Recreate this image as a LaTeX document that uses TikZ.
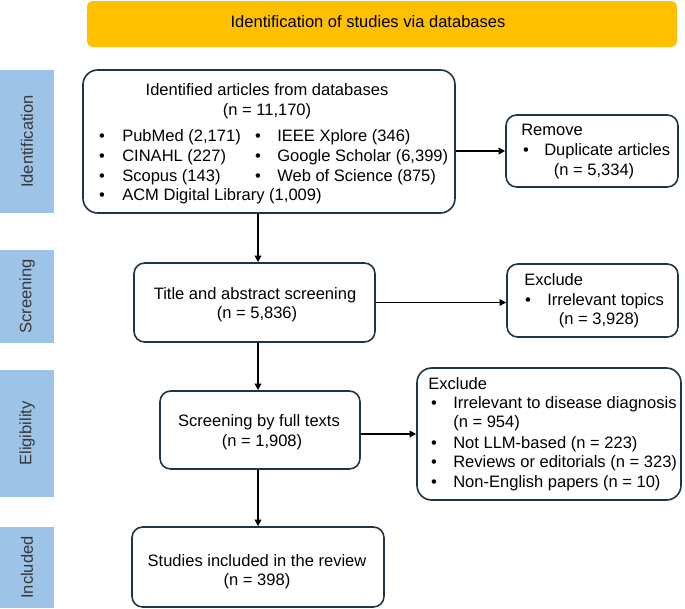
\documentclass[tikz,border=0pt]{standalone}
\usepackage{fontspec}
\setmainfont{Liberation Sans}
\usetikzlibrary{arrows.meta,fit}
\definecolor{boxline}{HTML}{1F3547}
\definecolor{orangebar}{HTML}{FFC000}
\definecolor{sidebar}{HTML}{9DC3E6}
\begin{document}
\begin{tikzpicture}[x=0.75pt,y=-0.75pt,
  font=\fontsize{12.4pt}{14.6pt}\selectfont,
  box/.style={draw=boxline, line width=1.2pt, rounded corners=8pt, inner sep=0pt, fill=white},
  bigbox/.style={box, rounded corners=11pt},
  side/.style={fill=sidebar, inner sep=0pt},
  sidetxt/.style={rotate=90, text=black!78, inner sep=0pt},
  txt/.style={inner sep=0pt, anchor=mid},
  ltxt/.style={inner sep=0pt, anchor=mid west},
  arr/.style={line width=1.1pt, -{Triangle[length=5pt,width=5pt]}}]
\path[use as bounding box] (0,0) rectangle (685,608);

% header
\node[fill=orangebar, rounded corners=4pt, inner sep=0pt, fit={(87,1) (677,47)}] (head) {};
\node[txt] (headtxt) at (368,24) {Identification of studies via databases};

% side bars
\node[side, fit={(0,70) (54,213)}] (s1) {};
\node[sidetxt] (s1t) at (s1.center) {Identification};
\node[side, fit={(0,250) (54,343)}] (s2) {};
\node[sidetxt] (s2t) at (s2.center) {Screening};
\node[side, fit={(0,370) (54,497)}] (s3) {};
\node[sidetxt] (s3t) at (s3.center) {Eligibility};
\node[side, fit={(0,527) (54,608)}] (s4) {};
\node[sidetxt] (s4t) at (s4.center) {Included};

% boxes
\node[bigbox, fit={(83,70) (455,213)}] (ident) {};
\node[box, fit={(506,115) (678,187)}] (remove) {};
\node[box, fit={(134,263) (375,342)}] (title) {};
\node[box, fit={(507,264) (678,337)}] (ex1) {};
\node[box, fit={(160,391) (360,469)}] (full) {};
\node[bigbox, fit={(417,368) (681,500)}] (ex2) {};
\node[box, fit={(132,527) (384,607)}] (incl) {};

% identified box text
\node[txt] (i1) at (267,92) {Identified articles from databases};
\node[txt] (i2) at (267,112) {(n = 11,170)};
\node[txt] (ib1) at (102,138) {•};
\node[ltxt] (it1) at (122,138) {PubMed (2,171)};
\node[txt] (ib2) at (102,158) {•};
\node[ltxt] (it2) at (122,158) {CINAHL (227)};
\node[txt] (ib3) at (102,178) {•};
\node[ltxt] (it3) at (122,178) {Scopus (143)};
\node[txt] (ib4) at (102,197) {•};
\node[ltxt] (it4) at (122,197) {ACM Digital Library (1,009)};
\node[txt] (ib5) at (258,138) {•};
\node[ltxt] (it5) at (277,138) {IEEE Xplore (346)};
\node[txt] (ib6) at (258,158) {•};
\node[ltxt] (it6) at (277,158) {Google Scholar (6,399)};
\node[txt] (ib7) at (258,178) {•};
\node[ltxt] (it7) at (277,178) {Web of Science (875)};

% remove box text
\node[ltxt] (r1) at (521,132) {Remove};
\node[txt] (rb1) at (526,152) {•};
\node[ltxt] (r2) at (544,152) {Duplicate articles};
\node[txt] (r3) at (594,172) {(n = 5,334)};

% title box text
\node[txt] (t1) at (255,296) {Title and abstract screening};
\node[txt] (t2) at (257,315) {(n = 5,836)};

% exclude 1 text
\node[ltxt] (e1) at (524,282) {Exclude};
\node[txt] (eb1) at (528,302) {•};
\node[ltxt] (e2) at (547,302) {Irrelevant topics};
\node[txt] (e3) at (599,321) {(n = 3,928)};

% full text box
\node[txt] (f1) at (259,423) {Screening by full texts};
\node[txt] (f2) at (262,443) {(n = 1,908)};

% exclude 2 text
\node[ltxt] (x0) at (428,386) {Exclude};
\node[txt] (xb1) at (434,405) {•};
\node[ltxt] (x1) at (453,405) {Irrelevant to disease diagnosis};
\node[ltxt] (x2) at (453,424) {(n = 954)};
\node[txt] (xb3) at (434,445) {•};
\node[ltxt] (x3) at (453,445) {Not LLM-based (n = 223)};
\node[txt] (xb4) at (434,464) {•};
\node[ltxt] (x4) at (453,464) {Reviews or editorials (n = 323)};
\node[txt] (xb5) at (434,484) {•};
\node[ltxt] (x5) at (453,484) {Non-English papers (n = 10)};

% included text
\node[txt] (n1) at (257,563) {Studies included in the review};
\node[txt] (n2) at (257,582) {(n = 398)};

% connectors
\coordinate (spine) at (258,0);
\draw[arr] (ident.south -| spine) -- (title.north -| spine);
\draw[arr] (title.south -| spine) -- (full.north -| spine);
\draw[arr] (full.south -| spine) -- (incl.north -| spine);
\draw[arr] (ident.east |- remove.west) -- (remove.west);
\draw[arr] (title.east) -- (title.east -| ex1.west);
\draw[arr] (full.east |- ex2.west) -- (ex2.west);
\end{tikzpicture}
\end{document}
